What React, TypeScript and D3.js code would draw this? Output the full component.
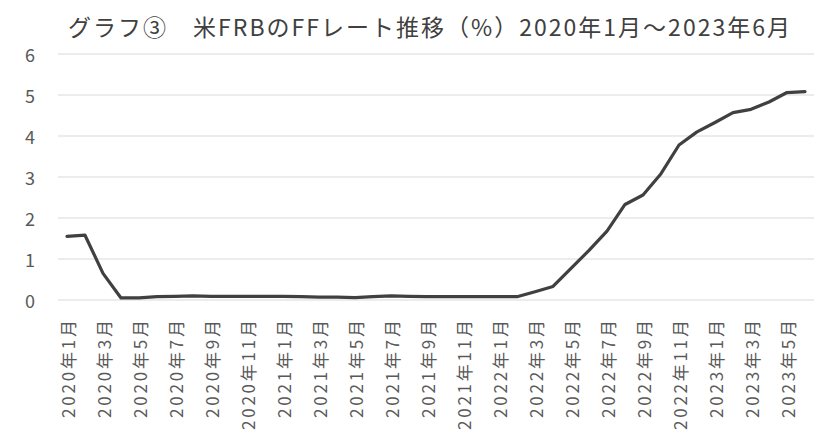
import React from "react";
import * as d3 from "d3";

const title = "グラフ③　米FRBのFFレート推移（%）2020年1月～2023年6月";
const months: string[] = [];
for (const y of [2020, 2021, 2022, 2023]) {
  for (let m = 1; m <= 12; m++) {
    if (y === 2023 && m > 6) break;
    months.push(`${y}年${m}月`);
  }
}
const rates = [
  1.55, 1.58, 0.65, 0.05, 0.05, 0.08, 0.09, 0.1, 0.09, 0.09, 0.09, 0.09,
  0.09, 0.08, 0.07, 0.07, 0.06, 0.08, 0.1, 0.09, 0.08, 0.08, 0.08, 0.08,
  0.08, 0.08, 0.2, 0.33, 0.77, 1.21, 1.68, 2.33, 2.56, 3.08, 3.78, 4.1,
  4.33, 4.57, 4.65, 4.83, 5.06, 5.08,
];
const yTicks = [0, 1, 2, 3, 4, 5, 6];

const W = 832;
const H = 431;
const FONT = "'Noto Sans CJK JP', 'Noto Sans', sans-serif";

export default function App() {
  const x = d3.scaleBand<string>().domain(months).range([58, 814]);
  const y = d3.scaleLinear().domain([0, 6]).range([300, 54]);
  const line = d3
    .line<number>()
    .x((_, i) => (x(months[i]) as number) + x.bandwidth() / 2)
    .y((d) => y(d));

  const labelLen = (s: string) => {
    let n = 0;
    for (const ch of s) n += /[0-9]/.test(ch) ? 12 : 19;
    return n;
  };

  return (
    <svg
      width={W}
      height={H}
      style={{ position: "absolute", left: 0, top: 0, background: "#fff" }}
    >
      <text
        x={68}
        y={36}
        fontFamily={FONT}
        fontSize={23}
        fill="#404040"
        textLength={722}
        lengthAdjust="spacing"
      >
        {title}
      </text>
      {yTicks.map((t) => (
        <g key={t}>
          <line
            x1={58}
            x2={814}
            y1={y(t)}
            y2={y(t)}
            stroke="#d9d9d9"
            strokeWidth={1}
          />
          <text
            x={35}
            y={y(t)}
            textAnchor="end"
            dominantBaseline="central"
            fontFamily={FONT}
            fontSize={18}
            fill="#595959"
          >
            {t}
          </text>
        </g>
      ))}
      <path
        d={line(rates) || ""}
        fill="none"
        stroke="#404040"
        strokeWidth={3.2}
        strokeLinejoin="round"
        strokeLinecap="round"
      />
      {months.map((m, i) =>
        i % 2 === 0 ? (
          <text
            key={m}
            transform={`translate(${(x(m) as number) + x.bandwidth() / 2},320) rotate(-90)`}
            textAnchor="end"
            dominantBaseline="central"
            fontFamily={FONT}
            fontSize={17}
            fill="#595959"
            textLength={labelLen(m)}
            lengthAdjust="spacing"
          >
            {m}
          </text>
        ) : null
      )}
    </svg>
  );
}
